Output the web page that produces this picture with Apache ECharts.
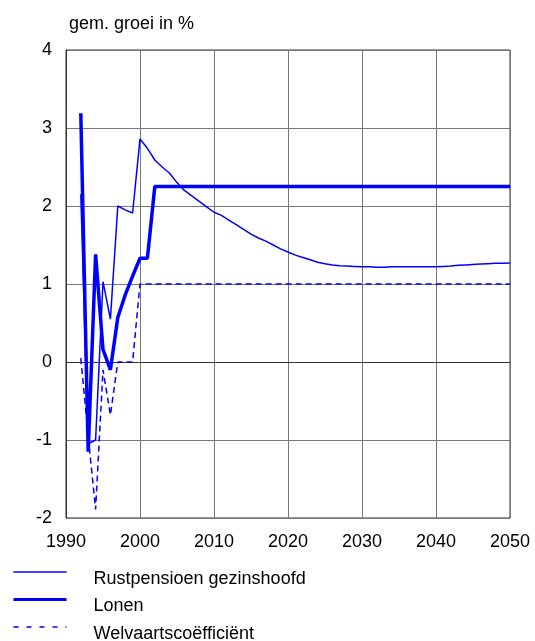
<!DOCTYPE html>
<html>
<head>
<meta charset="utf-8">
<script src="https://cdn.jsdelivr.net/npm/echarts@6/dist/echarts.min.js"></script>
<style>
  html, body { margin: 0; padding: 0; background: #fff; }
  #chart { width: 535px; height: 641px; }
</style>
</head>
<body>
<div id="chart"></div>
<script>
// years 1992 - 2050
const years = [1992, 1993, 1994, 1995, 1996, 1997, 1998, 1999, 2000, 2001,
  2002, 2003, 2004, 2005, 2006, 2007, 2008, 2009, 2010, 2011,
  2012, 2013, 2014, 2015, 2016, 2017, 2018, 2019, 2020, 2021,
  2022, 2023, 2024, 2025, 2026, 2027, 2028, 2029, 2030, 2031,
  2032, 2033, 2034, 2035, 2036, 2037, 2038, 2039, 2040, 2041,
  2042, 2043, 2044, 2045, 2046, 2047, 2048, 2049, 2050]

const rustpensioen = [2.15, -1.05, -1.0, 1.03, 0.55, 2.0, 1.95, 1.91, 2.86, 2.74,
  2.59, 2.50, 2.42, 2.30, 2.20, 2.13, 2.06, 1.99, 1.92, 1.88,
  1.82, 1.76, 1.70, 1.64, 1.59, 1.55, 1.50, 1.45, 1.41, 1.37,
  1.34, 1.31, 1.28, 1.26, 1.245, 1.235, 1.23, 1.225, 1.22, 1.22,
  1.215, 1.215, 1.22, 1.22, 1.22, 1.22, 1.22, 1.22, 1.22, 1.225,
  1.23, 1.24, 1.245, 1.25, 1.255, 1.26, 1.265, 1.265, 1.27]

const lonen = [3.19, -1.15, 1.38, 0.16, -0.1, 0.57, 0.86, 1.1, 1.33, 1.33,
  2.25, 2.25, 2.25, 2.25, 2.25, 2.25, 2.25, 2.25, 2.25, 2.25,
  2.25, 2.25, 2.25, 2.25, 2.25, 2.25, 2.25, 2.25, 2.25, 2.25,
  2.25, 2.25, 2.25, 2.25, 2.25, 2.25, 2.25, 2.25, 2.25, 2.25,
  2.25, 2.25, 2.25, 2.25, 2.25, 2.25, 2.25, 2.25, 2.25, 2.25,
  2.25, 2.25, 2.25, 2.25, 2.25, 2.25, 2.25, 2.25, 2.25]

const welvaart = [0.05, -0.95, -1.89, -0.1, -0.68, 0, 0, 0, 1.0, 1.0,
  1.0, 1.0, 1.0, 1.0, 1.0, 1.0, 1.0, 1.0, 1.0, 1.0,
  1.0, 1.0, 1.0, 1.0, 1.0, 1.0, 1.0, 1.0, 1.0, 1.0,
  1.0, 1.0, 1.0, 1.0, 1.0, 1.0, 1.0, 1.0, 1.0, 1.0,
  1.0, 1.0, 1.0, 1.0, 1.0, 1.0, 1.0, 1.0, 1.0, 1.0,
  1.0, 1.0, 1.0, 1.0, 1.0, 1.0, 1.0, 1.0, 1.0]

const pairs = vals => years.map((y, i) => [y, vals[i]])

const font = 'Liberation Sans, Arial, sans-serif'
const blue = '#0000ff'

const chart = echarts.init(document.getElementById('chart'))
chart.setOption({
  animation: false,
  textStyle: { fontFamily: font, color: '#000' },
  title: {
    text: 'gem. groei in %',
    left: 64, top: 10,
    textStyle: { fontSize: 18, fontWeight: 'normal', color: '#000', fontFamily: font }
  },
  grid: {
    left: 66, right: 25, top: 50, bottom: 123,
    show: true, borderColor: '#333', borderWidth: 1
  },
  legend: {
    orient: 'vertical',
    left: 12, top: 556, height: 120,
    padding: 0,
    itemWidth: 53, itemHeight: 14, itemGap: -4.5,
    itemStyle: { opacity: 0 },
    // empty first line pushes the label a little below its line sample
    formatter: name => '\n' + name,
    textStyle: { fontSize: 18, color: '#000', fontFamily: font, lineHeight: 14, padding: [0, 0, 0, 22] },
    data: [
      { name: 'Rustpensioen gezinshoofd', lineStyle: { width: 1.5 } },
      { name: 'Lonen', lineStyle: { width: 3 } },
      { name: 'Welvaartscoëfficiënt', lineStyle: { width: 1.5, type: [5, 8] } }
    ]
  },
  xAxis: {
    type: 'value', min: 1990, max: 2050, interval: 10,
    axisLine: { show: true, lineStyle: { color: '#333' } },
    axisTick: { show: false },
    axisLabel: { fontSize: 18, color: '#000', margin: 15, fontFamily: font, formatter: v => String(v) },
    splitLine: { show: true, lineStyle: { color: '#777', width: 1 } }
  },
  yAxis: {
    type: 'value', min: -2, max: 4, interval: 1,
    axisLine: { show: true, lineStyle: { color: '#333' } },
    axisTick: { show: false },
    axisLabel: { fontSize: 18, color: '#000', margin: 14, fontFamily: font },
    splitLine: { show: true, lineStyle: { color: '#777', width: 1 } }
  },
  series: [
    {
      name: 'Rustpensioen gezinshoofd', type: 'line', data: pairs(rustpensioen),
      showSymbol: false, symbol: 'none',
      lineStyle: { color: blue, width: 1.5 }, itemStyle: { color: blue }
    },
    {
      name: 'Lonen', type: 'line', data: pairs(lonen),
      showSymbol: false, symbol: 'none',
      lineStyle: { color: blue, width: 3.5 }, itemStyle: { color: blue }
    },
    {
      name: 'Welvaartscoëfficiënt', type: 'line', data: pairs(welvaart),
      showSymbol: false, symbol: 'none',
      lineStyle: { color: blue, width: 1.5, type: [6, 4] }, itemStyle: { color: blue }
    }
  ]
})
</script>
</body>
</html>
